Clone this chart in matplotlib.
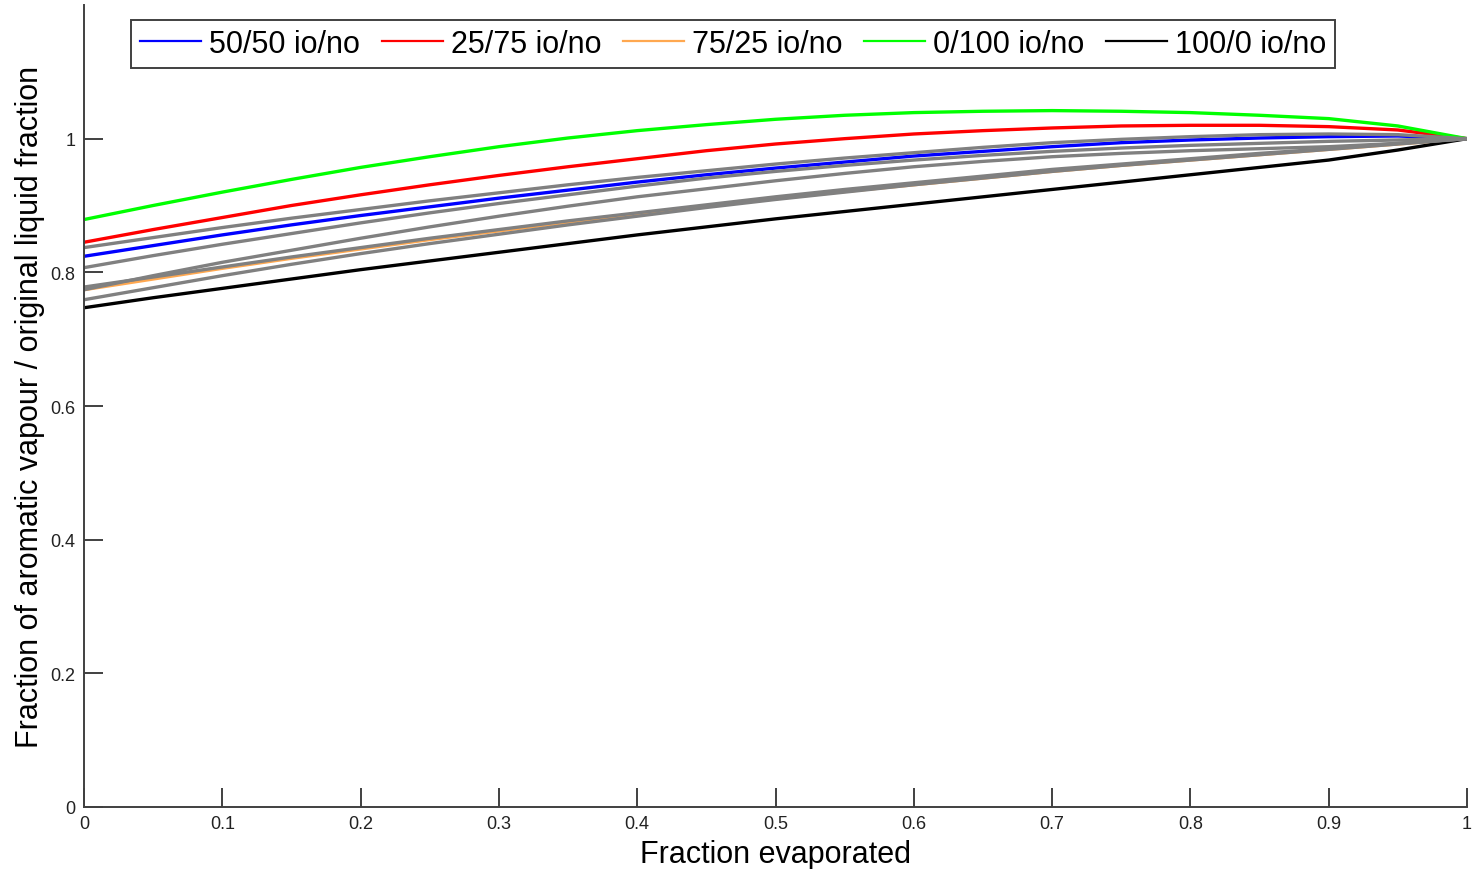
import numpy as np
import matplotlib
matplotlib.use('Agg')
import matplotlib.pyplot as plt

plt.rcParams['font.family'] = ['Liberation Sans', 'DejaVu Sans']

# fraction evaporated (x) shared by all curves
frac = [0, 0.05, 0.1, 0.15, 0.2, 0.25, 0.3, 0.35, 0.4, 0.45, 0.5,
        0.55, 0.6, 0.65, 0.7, 0.75, 0.8, 0.85, 0.9, 0.95, 1.0]

# coloured curves (in legend)
io50 = [0.824, 0.840, 0.856, 0.871, 0.885, 0.898, 0.911, 0.923, 0.935, 0.946, 0.956,
        0.965, 0.974, 0.981, 0.988, 0.994, 0.998, 1.001, 1.003, 1.004, 1.0]
io25 = [0.845, 0.864, 0.882, 0.900, 0.916, 0.931, 0.945, 0.958, 0.970, 0.982, 0.992,
        1.000, 1.007, 1.012, 1.016, 1.019, 1.020, 1.020, 1.018, 1.013, 1.0]
io75 = [0.774, 0.790, 0.806, 0.821, 0.835, 0.849, 0.862, 0.875, 0.887, 0.899, 0.910,
        0.921, 0.931, 0.941, 0.951, 0.960, 0.968, 0.976, 0.984, 0.992, 1.0]
io0 = [0.879, 0.900, 0.920, 0.939, 0.957, 0.973, 0.988, 1.001, 1.012, 1.021, 1.029,
       1.035, 1.039, 1.041, 1.042, 1.041, 1.039, 1.035, 1.030, 1.019, 1.0]
io100 = [0.747, 0.762, 0.776, 0.790, 0.804, 0.817, 0.830, 0.843, 0.856, 0.868, 0.880,
         0.891, 0.902, 0.913, 0.924, 0.935, 0.946, 0.957, 0.968, 0.983, 1.0]

# grey curves (not in legend)
grey1 = [0.837, 0.852, 0.867, 0.881, 0.894, 0.907, 0.919, 0.931, 0.942, 0.952, 0.962,
         0.971, 0.979, 0.987, 0.994, 0.999, 1.003, 1.006, 1.007, 1.006, 1.0]
grey2 = [0.807, 0.825, 0.842, 0.858, 0.874, 0.889, 0.903, 0.916, 0.929, 0.941, 0.951,
         0.960, 0.968, 0.975, 0.981, 0.986, 0.990, 0.993, 0.996, 0.998, 1.0]
grey3 = [0.774, 0.795, 0.815, 0.833, 0.851, 0.868, 0.884, 0.899, 0.913, 0.925, 0.937,
         0.948, 0.958, 0.966, 0.973, 0.978, 0.982, 0.985, 0.988, 0.993, 1.0]
grey4 = [0.778, 0.793, 0.808, 0.823, 0.837, 0.851, 0.864, 0.877, 0.889, 0.901, 0.913,
         0.924, 0.934, 0.944, 0.954, 0.962, 0.970, 0.978, 0.985, 0.993, 1.0]
grey5 = [0.759, 0.777, 0.795, 0.812, 0.828, 0.843, 0.857, 0.871, 0.884, 0.897, 0.909,
         0.920, 0.931, 0.941, 0.951, 0.960, 0.968, 0.976, 0.984, 0.992, 1.0]

labels = ['50/50 io/no', '25/75 io/no', '75/25 io/no', '0/100 io/no', '100/0 io/no']
colors = ['#0000FF', '#FF0000', '#FFA850', '#00FF00', '#000000']

xticks = [0, 0.1, 0.2, 0.3, 0.4, 0.5, 0.6, 0.7, 0.8, 0.9, 1]
xticklabels = ['0', '0.1', '0.2', '0.3', '0.4', '0.5', '0.6', '0.7', '0.8', '0.9', '1']
yticks = [0, 0.2, 0.4, 0.6, 0.8, 1]
yticklabels = ['0', '0.2', '0.4', '0.6', '0.8', '1']

W, H = 1472, 870
fig = plt.figure(figsize=(W / 100, H / 100), dpi=100)
ax = fig.add_axes([84 / W, 1 - 808 / H, 1383 / W, 802 / H])

handles = []
for ys, c in zip([io50, io25, io75, io0, io100], colors):
    h, = ax.plot(frac, ys, color=c, lw=2.4)
    handles.append(h)
for ys in [grey1, grey2, grey3, grey4, grey5]:
    ax.plot(frac, ys, color='#808080', lw=2.4)

ax.set_xlim(0, 1)
ax.set_ylim(0, 1.2)
ax.set_xticks(xticks)
ax.set_xticklabels(xticklabels)
ax.set_yticks(yticks)
ax.set_yticklabels(yticklabels)
ax.tick_params(direction='in', length=14, width=1.4, color='#404040',
               labelsize=13, labelcolor='#222222', pad=6)

for s in ['top', 'right']:
    ax.spines[s].set_visible(False)
for s in ['left', 'bottom']:
    ax.spines[s].set_color('#404040')
    ax.spines[s].set_linewidth(1.4)

ax.set_xlabel('Fraction evaporated', fontsize=22, labelpad=4.5)
ax.set_ylabel('Fraction of aromatic vapour / original liquid fraction', fontsize=22, labelpad=4)

leg = ax.legend(handles, labels, loc='upper left', ncol=5,
                bbox_to_anchor=(131 / W, 1 - 21 / H), bbox_transform=fig.transFigure,
                fontsize=22, frameon=True, fancybox=False, framealpha=1,
                edgecolor='#404040', handlelength=2.0, handletextpad=0.25,
                columnspacing=0.72, borderpad=0.3, borderaxespad=0)
leg.get_frame().set_linewidth(1.4)
for l in leg.get_lines():
    l.set_linewidth(1.6)

fig.savefig('out.png', dpi=100)
